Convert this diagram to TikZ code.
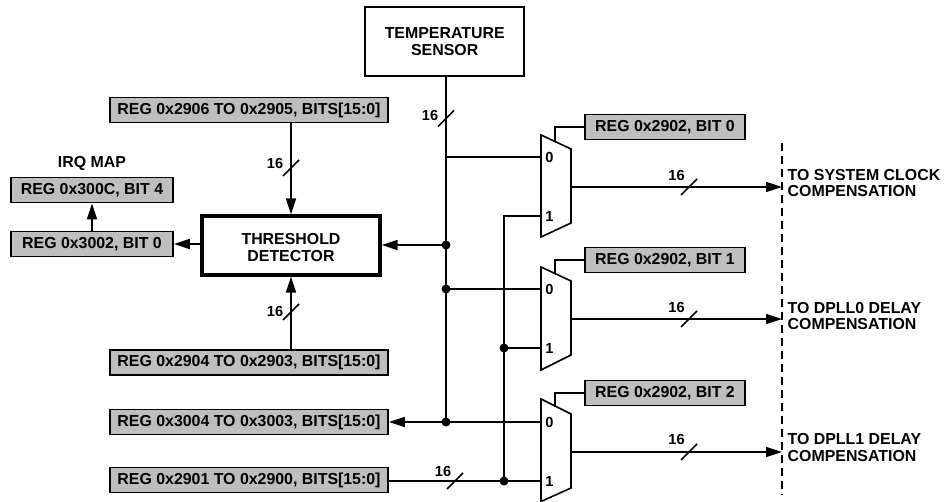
\documentclass[tikz,border=0pt]{standalone}
\usepackage{fontspec}
\setmainfont{Liberation Sans}
\usetikzlibrary{arrows.meta,calc}
\definecolor{reggray}{HTML}{BEBEBE}
\tikzset{
  wire/.style={line width=1.6pt},
  sig/.style={wire,-{Triangle[length=16pt,width=10pt]}},
  reg/.style={draw,line width=1.8pt,fill=reggray,font=\bfseries\fontsize{15.9}{16}\selectfont,inner sep=0pt,minimum height=25pt},
  regwide/.style={reg,minimum width=278pt},
  regbit/.style={reg,minimum width=160pt},
  blockbox/.style={draw,align=center,inner sep=0pt,font=\bfseries\fontsize{15.9}{16.5}\selectfont},
  lbl/.style={font=\bfseries\fontsize{15.9}{16.2}\selectfont,inner sep=0pt},
  numlbl/.style={font=\bfseries\fontsize{14.6}{16}\selectfont,inner sep=0pt},
  outtxt/.style={lbl,align=left,anchor=west},
  dot/.style={circle,fill=black,inner sep=0pt,minimum size=9pt},
  slash/.style={wire,line cap=butt},
}
\newcommand{\slashat}[1]{\draw[slash] ($(#1)+(-8,8)$) -- ($(#1)+(8,-8)$);}
\begin{document}
\begin{tikzpicture}[x=1pt,y=-1pt]
\useasboundingbox (0,0) rectangle (945,502);
% blocks
\node[blockbox,line width=2pt,minimum width=159.5pt,minimum height=68.5pt] (temp) at (444.7,41.7) {TEMPERATURE\\SENSOR};
\node[blockbox,line width=3.2pt,minimum width=178pt,minimum height=59pt] (thr) at (291,245.5) {\rule{0pt}{15.3pt}THRESHOLD\\DETECTOR};
% registers
\node[regwide] (r2906) at (249,110) {REG 0x2906 TO 0x2905, BITS[15:0]};
\node[regwide] (r2904) at (249,362.7) {REG 0x2904 TO 0x2903, BITS[15:0]};
\node[regwide] (r3004) at (249,422) {REG 0x3004 TO 0x3003, BITS[15:0]};
\node[regwide] (r2901) at (249,480) {REG 0x2901 TO 0x2900, BITS[15:0]};
\node[reg,minimum width=162pt] (r300c) at (92,190) {REG 0x300C, BIT 4};
\node[reg,minimum width=162pt] (r3002) at (92,244) {REG 0x3002, BIT 0};
\node[lbl] (irq) at (92,164) {IRQ MAP};
\node[regbit] (b0) at (665,127) {REG 0x2902, BIT 0};
\node[regbit] (b1) at (665,260) {REG 0x2902, BIT 1};
\node[regbit] (b2) at (665,393) {REG 0x2902, BIT 2};
% muxes
\draw[wire,line join=miter] (541,135) coordinate (m0tl) -- (571,149) coordinate (m0tr) -- (571,223) coordinate (m0br) -- (541,237) coordinate (m0bl) -- cycle;
\draw[wire,line join=miter] (541,267) coordinate (m1tl) -- (571,281) coordinate (m1tr) -- (571,355) coordinate (m1br) -- (541,370) coordinate (m1bl) -- cycle;
\draw[wire,line join=miter] (541,399) coordinate (m2tl) -- (571,414) coordinate (m2tr) -- (571,488) coordinate (m2br) -- (541,501.5) coordinate (m2bl) -- cycle;
\node[numlbl] (m0z) at (549.5,157) {0};
\node[numlbl] (m0o) at (549.5,216) {1};
\node[numlbl] (m1z) at (549.5,289) {0};
\node[numlbl] (m1o) at (549.5,348) {1};
\node[numlbl] (m2z) at (549.5,422.5) {0};
\node[numlbl] (m2o) at (549.5,481) {1};
% mux controls
\draw[wire] (555,142) coordinate (c0) |- (b0.west);
\draw[wire] (555,274) coordinate (c1) |- (b1.west);
\draw[wire] (555,406.5) coordinate (c2) |- (b2.west);
% junctions
\node[dot] (j1) at (446,245) {};
\node[dot] (j2) at (446,289) {};
\node[dot] (j3) at (446,422) {};
\node[dot] (k1) at (504,348) {};
\node[dot] (k2) at (504,481) {};
\coordinate (t0) at (446,157);
\coordinate (i0) at (541,157);
\coordinate (i1) at (541,216);
\coordinate (i2) at (541,289);
\coordinate (i3) at (541,348);
\coordinate (i4) at (541,422);
\coordinate (i5) at (541,481);
\coordinate (tap) at (504,216);
% bus
\draw[wire] (temp.south -| j1) -- (j3.center);
\draw[wire] (t0) -- (i0);
\draw[wire] (j2.center) -- (i2);
\draw[wire] (j3.center) -- (i4);
\draw[sig] (j1.center) -- (thr.east |- j1);
\draw[sig] (j3.center) -- (r3004.east);
\draw[wire] (i1) -- (tap) -- (k2.center);
\draw[wire] (k1.center) -- (i3);
\draw[wire] (r2901.east |- i5) -- (i5);
% threshold connections
\draw[sig] (r2906.south -| thr.north) -- (thr.north);
\draw[sig] (r2904.north -| thr.south) -- (thr.south);
\draw[sig] (thr.west |- r3002) -- (r3002.east);
\draw[sig] (r3002.north) -- (r300c.south);
% outputs
\draw[wire,dashed,dash pattern=on 8pt off 5pt] (782,143) coordinate (dtop) -- (782,495) coordinate (dbot);
\coordinate (o0) at (782,187);
\coordinate (o1) at (782,319);
\coordinate (o2) at (782,452);
\draw[sig] (571,187) coordinate (s0) -- (o0);
\draw[sig] (571,319) coordinate (s1) -- (o1);
\draw[sig] (571,452) coordinate (s2) -- (o2);
\node[outtxt] (t1) at (787.5,183) {TO SYSTEM CLOCK\\COMPENSATION};
\node[outtxt] (t2) at (787.5,316) {TO DPLL0 DELAY\\COMPENSATION};
\node[outtxt] (t3) at (787.5,447.5) {TO DPLL1 DELAY\\COMPENSATION};
% bus widths
\coordinate (sa) at (446,118.5); \slashat{sa}
\coordinate (sb) at (291,168); \slashat{sb}
\coordinate (sc) at (291,312); \slashat{sc}
\coordinate (sd) at (689,187); \slashat{sd}
\coordinate (se) at (689,319); \slashat{se}
\coordinate (sf) at (689,452); \slashat{sf}
\coordinate (sg) at (455,481); \slashat{sg}
\node[numlbl] (la) at (430,115) {16};
\node[numlbl] (lb) at (275,163.5) {16};
\node[numlbl] (lc) at (275,311.5) {16};
\node[numlbl] (ld) at (676.5,175) {16};
\node[numlbl] (le) at (676.5,307) {16};
\node[numlbl] (lf) at (676.5,439.5) {16};
\node[numlbl] (lg) at (443,471) {16};
\end{tikzpicture}
\end{document}
